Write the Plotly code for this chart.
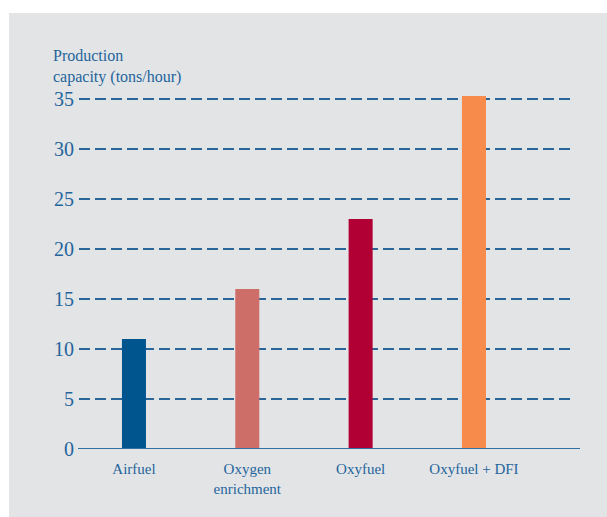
import plotly.graph_objects as go

categories = ["Airfuel", "Oxygen<br>enrichment", "Oxyfuel", "Oxyfuel + DFI"]
capacity = [11, 16, 23, 35.3]
bar_colors = ["#00558f", "#cd6e68", "#b00034", "#f68b4b"]
y_ticks = [0, 5, 10, 15, 20, 25, 30, 35]

TEXT = "#24649c"
FONT = "Liberation Serif"

W, H = 607, 517
PX0, PX1 = 79, 572      # plot area x in pixels
PY0, PY1 = 89, 449      # plot area y (top, bottom)
L, R, T, B = PX0, W - PX1, PY0, H - PY1
PW, PH = PX1 - PX0, PY1 - PY0


def px_x(p):
    return (p - PX0) / PW


def px_y(p):
    return (PY1 - p) / PH


fig = go.Figure()
fig.add_trace(go.Bar(
    x=list(range(len(categories))),
    y=capacity,
    marker=dict(color=bar_colors, line=dict(width=0)),
    width=0.212,
    hoverinfo="skip",
))

fig.update_layout(
    width=W, height=H,
    margin=dict(l=L, r=R, t=T, b=B, pad=0),
    paper_bgcolor="white",
    plot_bgcolor="rgba(0,0,0,0)",
    showlegend=False,
    hovermode=False,
    font=dict(family=FONT, color=TEXT),
    xaxis=dict(
        range=[-0.485, 3.865],
        tickmode="array",
        tickvals=list(range(len(categories))),
        ticktext=categories,
        tickfont=dict(size=15, family=FONT, color=TEXT),
        showgrid=False, zeroline=False, showline=False,
        ticks="",
        ticklabelstandoff=9,
    ),
    yaxis=dict(
        range=[0, 36],
        tickmode="array",
        tickvals=y_ticks,
        tickfont=dict(size=20, family=FONT, color=TEXT),
        showgrid=True,
        gridcolor="#2a659a",
        gridwidth=2,
        griddash="11px,5px",
        zeroline=False, showline=False,
        ticks="",
        ticklabelstandoff=4,
    ),
    shapes=[
        dict(type="rect", xref="paper", yref="paper", layer="below",
             x0=px_x(9), x1=px_x(620), y0=px_y(530), y1=px_y(13),
             fillcolor="#e3e4e6", line=dict(width=0)),
        dict(type="line", xref="paper", yref="y", layer="above",
             x0=px_x(78), x1=px_x(580),
             y0=0, y1=0, line=dict(color="#2f6fa6", width=2)),
    ],
    annotations=[
        dict(text="Production<br>capacity (tons/hour)", xref="paper", yref="paper",
             x=px_x(51), y=px_y(45),
             xanchor="left", yanchor="top", align="left", showarrow=False,
             font=dict(size=16, family=FONT, color=TEXT)),
    ],
)

fig.write_html(
    "out.html",
    config={"displayModeBar": False, "staticPlot": True},
    default_width=f"{W}px",
    default_height=f"{H}px",
    post_script="document.body.style.margin='0';document.body.style.overflow='hidden';",
)
